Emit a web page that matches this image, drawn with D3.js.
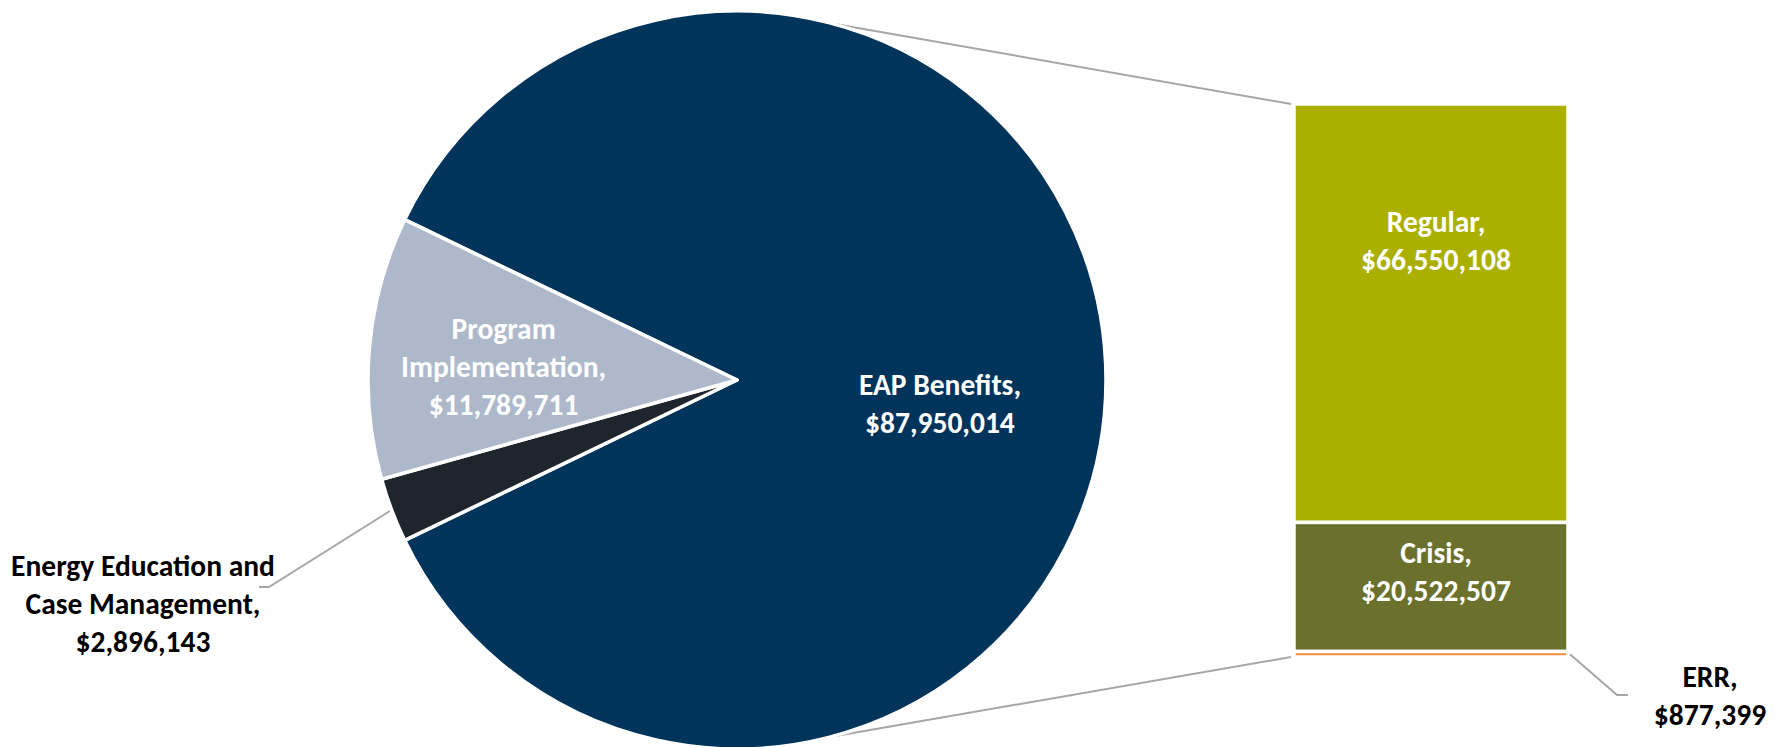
<!DOCTYPE html>
<html>
<head>
<meta charset="utf-8">
<script src="https://cdn.jsdelivr.net/npm/d3@7"></script>
<style>
  body { margin: 0; background: #fff; }
  text { font-family: Calibri, Carlito, Lato, sans-serif; font-weight: bold; }
</style>
</head>
<body>
<script>
// pie categories (clockwise, starting with the split-out slice)
var pieCategories = ["EAP Benefits", "Energy Education and Case Management", "Program Implementation"];
var pieValues = [87950014, 2896143, 11789711];
var pieColors = ["#01345b", "#1f252c", "#adb8ca"];
var pieLabelLines = [["EAP Benefits,"], ["Energy Education and", "Case Management,"], ["Program", "Implementation,"]];

// the bar splits "EAP Benefits"
var barCategories = ["Regular", "Crisis", "ERR"];
var barValues = [66550108, 20522507, 877399];
var barColors = ["#aaaf00", "#6b702c", "#f08a3c"];

var width = 1775, height = 747;
var cx = 737, cy = 380, radius = 369;
var barTop = 104, barBottom = 657, barLeft = 1294, barRight = 1568;
var fontSize = 29.5, lineH = 38;

var fmt = d3.format("$,");

var svg = d3.select("body").append("svg")
   .attr("width", width)
   .attr("height", height);

// pie, with the big slice centred on the right side
var total = d3.sum(pieValues);
var span = 2 * Math.PI * pieValues[0] / total;
var pie = d3.pie().sort(null)
   .startAngle(Math.PI / 2 - span / 2)
   .endAngle(Math.PI / 2 - span / 2 + 2 * Math.PI);
var arcs = pie(pieValues);
var arc = d3.arc().innerRadius(0).outerRadius(radius);

// bar scales
var y = d3.scaleLinear().domain([0, d3.sum(barValues)]).range([barTop, barBottom]);
var x = d3.scaleBand().domain(["EAP Benefits"]).range([barLeft, barRight]);

// series lines from the pie edge to the bar corners (drawn under the pie)
function edgePoint(px, py, sign) {
   var dx = px - cx, dy = py - cy;
   var d = Math.sqrt(dx * dx + dy * dy);
   var a = Math.atan2(dy, dx) + sign * (Math.acos(radius / d) - 0.085);
   return [cx + radius * Math.cos(a), cy + radius * Math.sin(a)];
}
var xl = x("EAP Benefits");
[[xl, y(0), -1], [xl, y(d3.sum(barValues)), 1]].forEach(function(c) {
   var t = edgePoint(c[0], c[1], c[2]);
   svg.append("line")
      .attr("x1", t[0]).attr("y1", t[1])
      .attr("x2", c[0] - 3).attr("y2", c[1])
      .style("stroke", "#a6a6a6")
      .style("stroke-width", 2);
});

var pieG = svg.append("g").attr("transform", "translate(" + cx + "," + cy + ")");
pieG.selectAll("path")
   .data(arcs)
   .enter()
   .append("path")
   .attr("d", arc)
   .style("fill", function(d, i) { return pieColors[i]; })
   .style("stroke", "white")
   .style("stroke-width", 3.5)
   .style("stroke-linejoin", "round");

// bar
var cum = 0;
var barData = barValues.map(function(v, i) {
   var d = { name: barCategories[i], value: v, y0: cum, y1: cum + v };
   cum += v;
   return d;
});

svg.selectAll("rect.seg")
   .data(barData)
   .enter()
   .append("rect")
   .attr("class", "seg")
   .attr("x", x("EAP Benefits"))
   .attr("width", x.bandwidth())
   .attr("y", function(d) { return y(d.y0); })
   .attr("height", function(d) { return y(d.y1) - y(d.y0); })
   .style("fill", function(d, i) { return barColors[i]; })
   .style("stroke", "white")
   .style("stroke-width", 3.5);

// labels
function label(lines, px, py, color) {
   var t = svg.append("text")
      .attr("text-anchor", "middle")
      .style("font-size", fontSize + "px")
      .style("fill", color);
   var y0 = py - (lines.length - 1) * lineH / 2;
   lines.forEach(function(s, i) {
      t.append("tspan")
         .attr("x", px)
         .attr("y", y0 + i * lineH)
         .attr("dy", "0.35em")
         .text(s);
   });
}

// EAP and Program Implementation labels inside the slices
var eapC = d3.arc().innerRadius(radius * 0.55).outerRadius(radius * 0.55).centroid(arcs[0]);
label(pieLabelLines[0].concat([fmt(pieValues[0])]), cx + eapC[0], cy + eapC[1] + 24, "white");
var progC = d3.arc().innerRadius(radius * 0.635).outerRadius(radius * 0.635).centroid(arcs[2]);
label(pieLabelLines[2].concat([fmt(pieValues[2])]), cx + progC[0], cy + progC[1] + 7, "white");

// Energy Education label outside with leader line
var edge = d3.arc().innerRadius(radius + 2).outerRadius(radius + 2).centroid(arcs[1]);
svg.append("polyline")
   .attr("points", [[cx + edge[0], cy + edge[1]], [269, 587], [259, 587]].join(" "))
   .style("fill", "none")
   .style("stroke", "#a6a6a6")
   .style("stroke-width", 2);
label(pieLabelLines[1].concat([fmt(pieValues[1])]), 143, 604, "black");

// bar labels
var barLabelShift = [-73, -15];
barData.forEach(function(d, i) {
   if (i < 2) {
      label([d.name + ",", fmt(d.value)], x("EAP Benefits") + x.bandwidth() / 2 + 5, (y(d.y0) + y(d.y1)) / 2 + barLabelShift[i], "white");
   }
});
var err = barData[2];
var errY = (y(err.y0) + y(err.y1)) / 2;
svg.append("polyline")
   .attr("points", [[barRight + 2, errY], [1617, 695], [1628, 695]].join(" "))
   .style("fill", "none")
   .style("stroke", "#a6a6a6")
   .style("stroke-width", 2);
label([err.name + ",", fmt(err.value)], 1710, 696, "black");
</script>
</body>
</html>
